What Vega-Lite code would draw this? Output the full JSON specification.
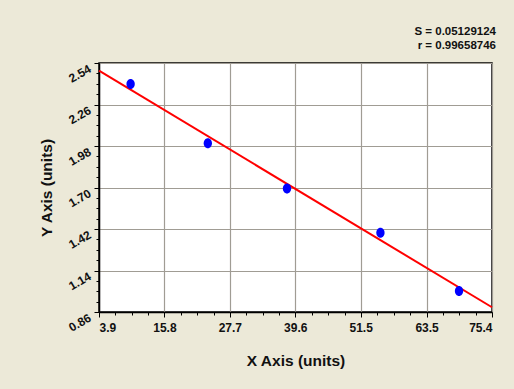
{
  "$schema": "https://vega.github.io/schema/vega-lite/v6.json",
  "autosize": {"type": "none"},
  "width": 393,
  "height": 249,
  "padding": {"left": 99, "top": 63, "right": 22, "bottom": 77},
  "background": "#ECE9D8",
  "config": {
    "font": "Liberation Sans",
    "view": {"fill": "white", "stroke": "black", "strokeWidth": 1.5}
  },
  "title": {
    "text": ["S = 0.05129124", "r = 0.99658746"],
    "anchor": "end",
    "align": "right",
    "fontSize": 11.5,
    "fontWeight": "bold",
    "color": "#111111",
    "lineHeight": 14,
    "offset": 11
  },
  "datasets": {
    "points": [
      {"x": 9.65, "y": 2.398},
      {"x": 23.7, "y": 1.998},
      {"x": 38.1, "y": 1.694},
      {"x": 55.1, "y": 1.395},
      {"x": 69.4, "y": 1.002}
    ],
    "fit": [
      {"x": 3.9, "y": 2.488},
      {"x": 75.4, "y": 0.892}
    ]
  },
  "layer": [
    {
      "data": {"name": "fit"},
      "mark": {"type": "line", "color": "#FF0000", "strokeWidth": 2},
      "encoding": {
        "x": {
          "field": "x", "type": "quantitative",
          "scale": {"domain": [3.9, 75.4], "nice": false, "zero": false},
          "axis": {
            "orient": "bottom",
            "values": [3.9, 15.8, 27.7, 39.6, 51.5, 63.5, 75.4],
            "format": ".1f",
            "title": "X Axis (units)",
            "titleFontSize": 15.5,
            "titleFontWeight": "bold",
            "titleColor": "#111111",
            "titlePadding": 20,
            "labelFontSize": 12,
            "labelFontWeight": "bold",
            "labelColor": "#111111",
            "labelPadding": 5,
            "tickSize": 5,
            "tickColor": "black",
            "domainColor": "black",
            "domainWidth": 1.5,
            "grid": true,
            "gridColor": "#A09C94",
            "gridWidth": 1.2,
            "gridOpacity": 1
          }
        },
        "y": {
          "field": "y", "type": "quantitative",
          "scale": {"domain": [0.86, 2.54], "nice": false, "zero": false},
          "axis": {
            "orient": "left",
            "values": [0.86, 1.14, 1.42, 1.70, 1.98, 2.26, 2.54],
            "format": ".2f",
            "title": "Y Axis (units)",
            "titleFontSize": 15.5,
            "titleFontWeight": "bold",
            "titleColor": "#111111",
            "titlePadding": 12,
            "labelFontSize": 12,
            "labelFontWeight": "bold",
            "labelColor": "#111111",
            "labelAngle": -30,
            "labelAlign": "right",
            "labelBaseline": "top",
            "labelPadding": 7,
            "tickSize": 5,
            "tickColor": "black",
            "domainColor": "black",
            "domainWidth": 1.5,
            "grid": true,
            "gridColor": "#A09C94",
            "gridWidth": 1.2,
            "gridOpacity": 1
          }
        }
      }
    },
    {
      "data": {"name": "points"},
      "mark": {
        "type": "point",
        "shape": "M0,-1 A0.83,1 0 1,1 0,1 A0.83,1 0 1,1 0,-1 Z",
        "filled": true,
        "color": "#0000FF",
        "opacity": 1,
        "size": 100
      },
      "encoding": {
        "x": {
          "field": "x", "type": "quantitative",
          "axis": {
            "orient": "bottom",
            "values": [6.879, 9.858, 12.838, 18.796, 21.775, 24.754, 30.713, 33.692, 36.671, 42.629, 45.608, 48.588, 54.546, 57.525, 60.504, 66.463, 69.442, 72.421],
            "labels": false,
            "title": null,
            "tickSize": 3,
            "tickColor": "black",
            "domain": false,
            "grid": false
          }
        },
        "y": {
          "field": "y", "type": "quantitative",
          "axis": {
            "orient": "left",
            "values": [0.93, 1.0, 1.07, 1.21, 1.28, 1.35, 1.49, 1.56, 1.63, 1.77, 1.84, 1.91, 2.05, 2.12, 2.19, 2.33, 2.40, 2.47],
            "labels": false,
            "title": null,
            "tickSize": 3,
            "tickColor": "black",
            "domain": false,
            "grid": false
          }
        }
      }
    }
  ],
  "resolve": {"axis": {"x": "independent", "y": "independent"}}
}
